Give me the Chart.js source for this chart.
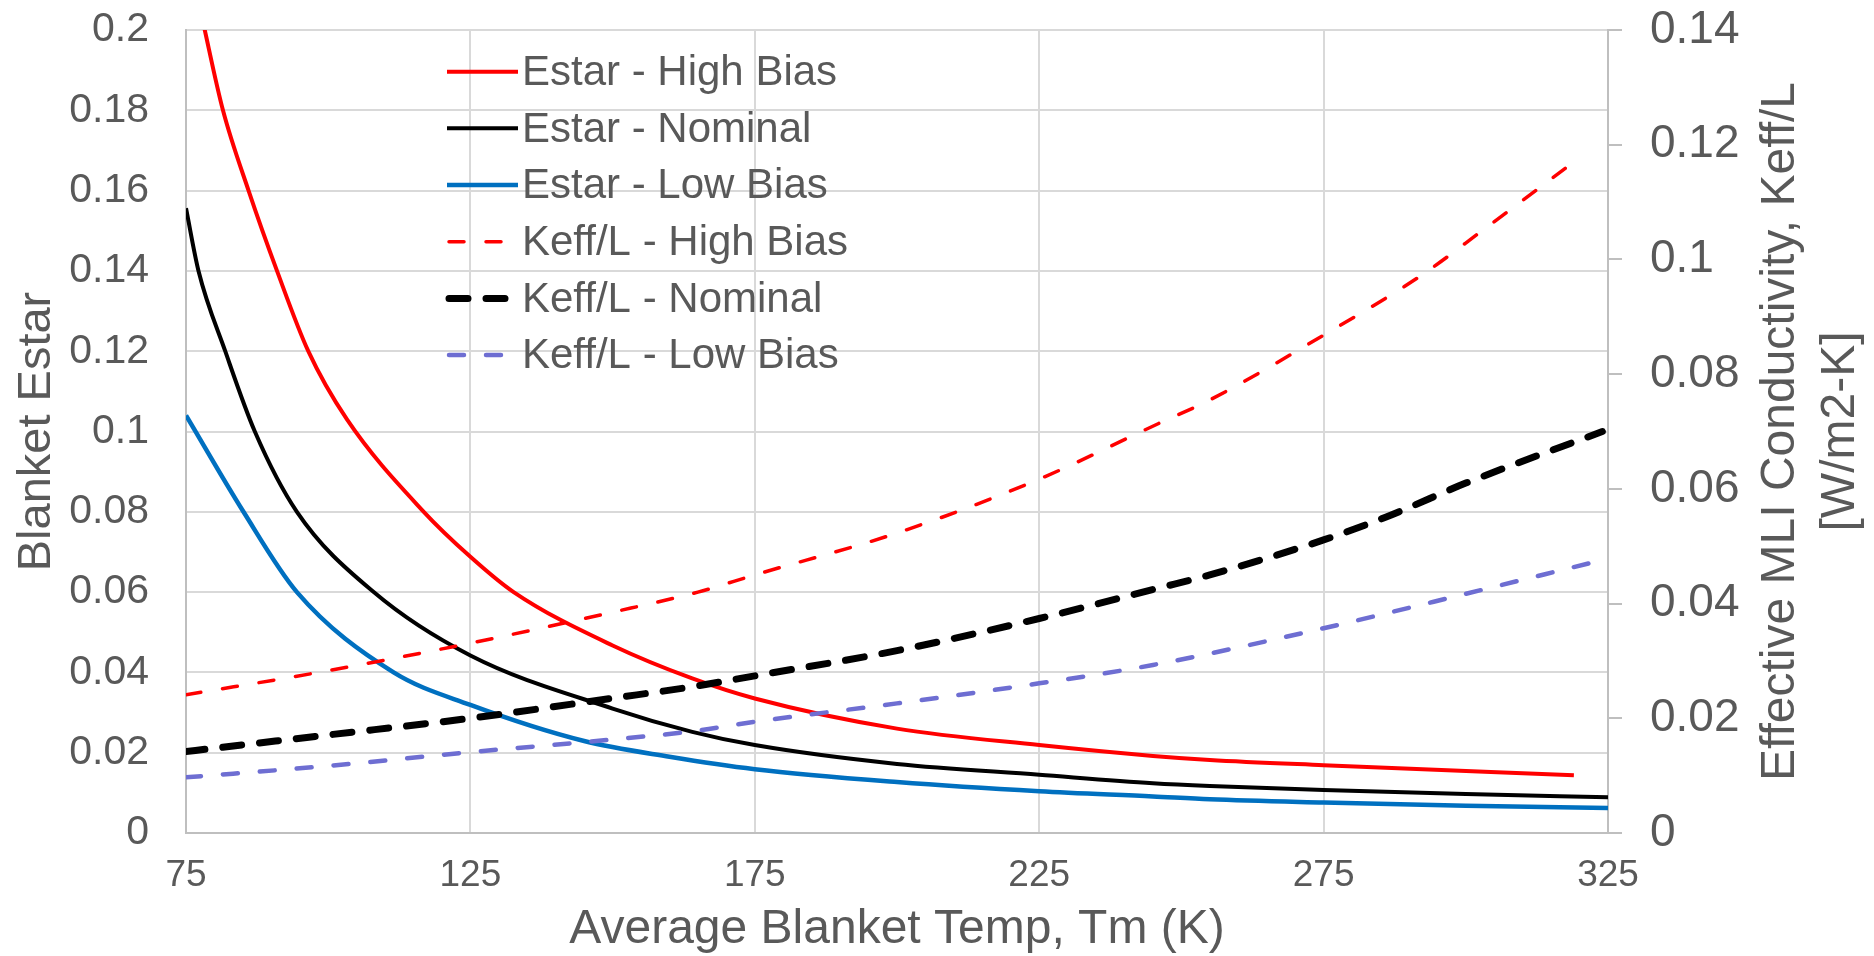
<!DOCTYPE html>
<html>
<head>
<meta charset="utf-8">
<title>Blanket Estar and Keff/L vs Tm</title>
<script src="https://cdn.jsdelivr.net/npm/chart.js@4.4.1/dist/chart.umd.min.js"></script>
<style>
  html, body { margin: 0; padding: 0; background: #ffffff; }
  #wrap { width: 1874px; height: 956px; }
</style>
</head>
<body>
<div id="wrap"><canvas id="blanketChart" width="1874" height="956"></canvas></div>
<script>
// Estar (left axis) - temperatures in K and values
const tempEstarHigh = [75, 78.3, 81.5, 86, 91, 96.5, 103.3, 116.8, 125, 132.6, 150, 164, 175, 200, 225, 245, 255, 275, 319];
const estarHigh = [0.222, 0.2, 0.18, 0.16, 0.14, 0.12, 0.103, 0.08, 0.0688, 0.06, 0.0467, 0.0385, 0.0335, 0.026, 0.0219, 0.0192, 0.0182, 0.0169, 0.0144];

const tempEstarNom = [75, 77.2, 81.9, 87.1, 94.5, 108, 125, 150, 164, 175, 200, 225, 245, 255, 275, 300, 325];
const estarNom = [0.1556, 0.14, 0.12, 0.10, 0.08, 0.06, 0.0442, 0.031, 0.0252, 0.0219, 0.0172, 0.0145, 0.0124, 0.0117, 0.0107, 0.0097, 0.0089];

const tempEstarLow = [75, 85.1, 94.5, 111.5, 125, 145, 160, 175, 200, 225, 245, 255, 275, 300, 325];
const estarLow = [0.104, 0.08, 0.06, 0.04, 0.0319, 0.0229, 0.019, 0.0159, 0.0127, 0.0104, 0.0091, 0.0084, 0.0076, 0.0068, 0.0062];

// Keff/L (right axis)
const tempKeffHigh = [75, 100, 125, 150, 165, 175, 200, 225, 246, 255, 275, 292, 303, 319];
const keffHigh = [0.0241, 0.0283, 0.0331, 0.0385, 0.042, 0.045, 0.0523, 0.0617, 0.0714, 0.0755, 0.0868, 0.0971, 0.1051, 0.117];

const tempKeffNom = [75, 100, 125, 150, 164, 175, 200, 225, 246, 255, 275, 286, 300, 324];
const keffNom = [0.0142, 0.0171, 0.0200, 0.0235, 0.0255, 0.0274, 0.0318, 0.0374, 0.0427, 0.0450, 0.0511, 0.0551, 0.061, 0.070];

const tempKeffLow = [75, 100, 125, 150, 164.5, 175, 200, 225, 245, 275, 300, 322.8];
const keffLow = [0.0097, 0.0117, 0.0141, 0.0163, 0.0178, 0.0194, 0.0226, 0.0261, 0.0293, 0.0357, 0.0417, 0.0473];

// tick labels
const tempTicks = [75, 125, 175, 225, 275, 325];
const estarTicks = [0, 0.02, 0.04, 0.06, 0.08, 0.1, 0.12, 0.14, 0.16, 0.18, 0.2];
const keffTicks = [0, 0.02, 0.04, 0.06, 0.08, 0.1, 0.12, 0.14];

document.addEventListener('DOMContentLoaded', () => {
    const FONT = '"Liberation Sans", Arial, sans-serif';
    const TEXT = '#595959';
    const GRID = '#D9D9D9';
    const AXIS = '#BFBFBF';

    const pairs = (xs, ys) => xs.map((x, i) => ({ x: x, y: ys[i] }));
    const fmt = v => String(+v.toFixed(2));

    // fixed box sizes so the plot area sits where Excel put it
    const fixBox = (w, h) => s => {
        if (w) s.width = w;
        if (h) s.height = h;
        s.paddingTop = 0;
        s.paddingBottom = 0;
        s.paddingLeft = 0;
        s.paddingRight = 0;
    };

    // legend drawn the way Excel places it, inside the plot
    const excelLegend = {
        id: 'excelLegend',
        afterDraw(chart) {
            const ctx = chart.ctx;
            ctx.save();
            ctx.font = '42px ' + FONT;
            ctx.fillStyle = TEXT;
            ctx.textBaseline = 'alphabetic';
            chart.data.datasets.forEach((ds, i) => {
                const base = 85 + i * 56.67;
                const ly = base - 13.3;
                ctx.beginPath();
                ctx.strokeStyle = ds.borderColor;
                ctx.lineWidth = ds.borderWidth;
                ctx.lineCap = ds.borderDash ? 'round' : 'butt';
                ctx.setLineDash(ds.borderDash || []);
                ctx.moveTo(ds.borderDash ? 449 : 447, ly);
                ctx.lineTo(518, ly);
                ctx.stroke();
                ctx.setLineDash([]);
                ctx.fillText(ds.label, 522, base);
            });
            ctx.restore();
        }
    };

    // right axis title reads bottom to top, like the left one
    const rightTitle = {
        id: 'rightTitle',
        afterDraw(chart) {
            const ctx = chart.ctx;
            const area = chart.chartArea;
            ctx.save();
            ctx.font = '48px ' + FONT;
            ctx.fillStyle = TEXT;
            ctx.textAlign = 'center';
            ctx.textBaseline = 'alphabetic';
            ctx.translate(1794, (area.top + area.bottom) / 2);
            ctx.rotate(-Math.PI / 2);
            ctx.fillText('Effective MLI Conductivity, Keff/L', 0, 0);
            ctx.fillText('[W/m2-K]', 0, 60);
            ctx.restore();
        }
    };

    const ctx = document.getElementById('blanketChart').getContext('2d');

    new Chart(ctx, {
        type: 'line',
        data: {
            datasets: [
                { label: 'Estar - High Bias', data: pairs(tempEstarHigh, estarHigh), yAxisID: 'y', borderColor: '#FF0000', borderWidth: 4, order: 2 },
                { label: 'Estar - Nominal', data: pairs(tempEstarNom, estarNom), yAxisID: 'y', borderColor: '#000000', borderWidth: 4, order: 2 },
                { label: 'Estar - Low Bias', data: pairs(tempEstarLow, estarLow), yAxisID: 'y', borderColor: '#0070C0', borderWidth: 4.5, order: 2 },
                { label: 'Keff/L - High Bias', data: pairs(tempKeffHigh, keffHigh), yAxisID: 'y2', borderColor: '#FF0000', borderWidth: 3.5, borderDash: [15, 22], borderCapStyle: 'round', order: 1 },
                { label: 'Keff/L - Nominal', data: pairs(tempKeffNom, keffNom), yAxisID: 'y2', borderColor: '#000000', borderWidth: 7, borderDash: [19, 18], borderCapStyle: 'round', order: 1 },
                { label: 'Keff/L - Low Bias', data: pairs(tempKeffLow, keffLow), yAxisID: 'y2', borderColor: '#6E6ED2', borderWidth: 4.5, borderDash: [15, 22], borderCapStyle: 'round', order: 1 }
            ]
        },
        options: {
            responsive: false,
            animation: false,
            devicePixelRatio: 1,
            layout: { padding: { top: 30, left: 0, right: 0, bottom: 0 } },
            elements: {
                point: { radius: 0, hoverRadius: 0 },
                line: { cubicInterpolationMode: 'monotone', fill: false }
            },
            plugins: {
                legend: { display: false },
                tooltip: { enabled: false }
            },
            scales: {
                x: {
                    type: 'linear',
                    min: 75,
                    max: 325,
                    afterBuildTicks: s => { s.ticks = tempTicks.map(v => ({ value: v })); },
                    afterFit: fixBox(0, 123),
                    grid: { color: GRID, lineWidth: 2, drawTicks: false },
                    border: { color: AXIS, width: 2 },
                    ticks: { color: TEXT, font: { size: 37, family: FONT }, padding: 21, maxRotation: 0, autoSkip: false },
                    title: { display: true, text: 'Average Blanket Temp, Tm (K)', color: TEXT, font: { size: 48, family: FONT, lineHeight: 1.0 }, padding: { top: 0, bottom: 2 } }
                },
                y: {
                    position: 'left',
                    min: 0,
                    max: 0.2,
                    afterBuildTicks: s => { s.ticks = estarTicks.map(v => ({ value: v })); },
                    afterFit: fixBox(186, 0),
                    grid: { color: GRID, lineWidth: 2, drawTicks: false },
                    border: { color: AXIS, width: 2 },
                    ticks: { color: TEXT, font: { size: 41, family: FONT }, padding: 37, callback: fmt },
                    title: { display: true, text: 'Blanket Estar', color: TEXT, font: { size: 47, family: FONT, lineHeight: 1.0 }, padding: { top: 14, bottom: 0 } }
                },
                y2: {
                    position: 'right',
                    min: 0,
                    max: 0.14,
                    afterBuildTicks: s => { s.ticks = keffTicks.map(v => ({ value: v })); },
                    afterFit: fixBox(266, 0),
                    grid: { drawOnChartArea: false, drawTicks: true, tickLength: 14, color: AXIS, lineWidth: 2 },
                    border: { color: AXIS, width: 2 },
                    ticks: { color: TEXT, font: { size: 46, family: FONT }, padding: 28, callback: fmt }
                }
            }
        },
        plugins: [excelLegend, rightTitle]
    });
});
</script>
</body>
</html>
